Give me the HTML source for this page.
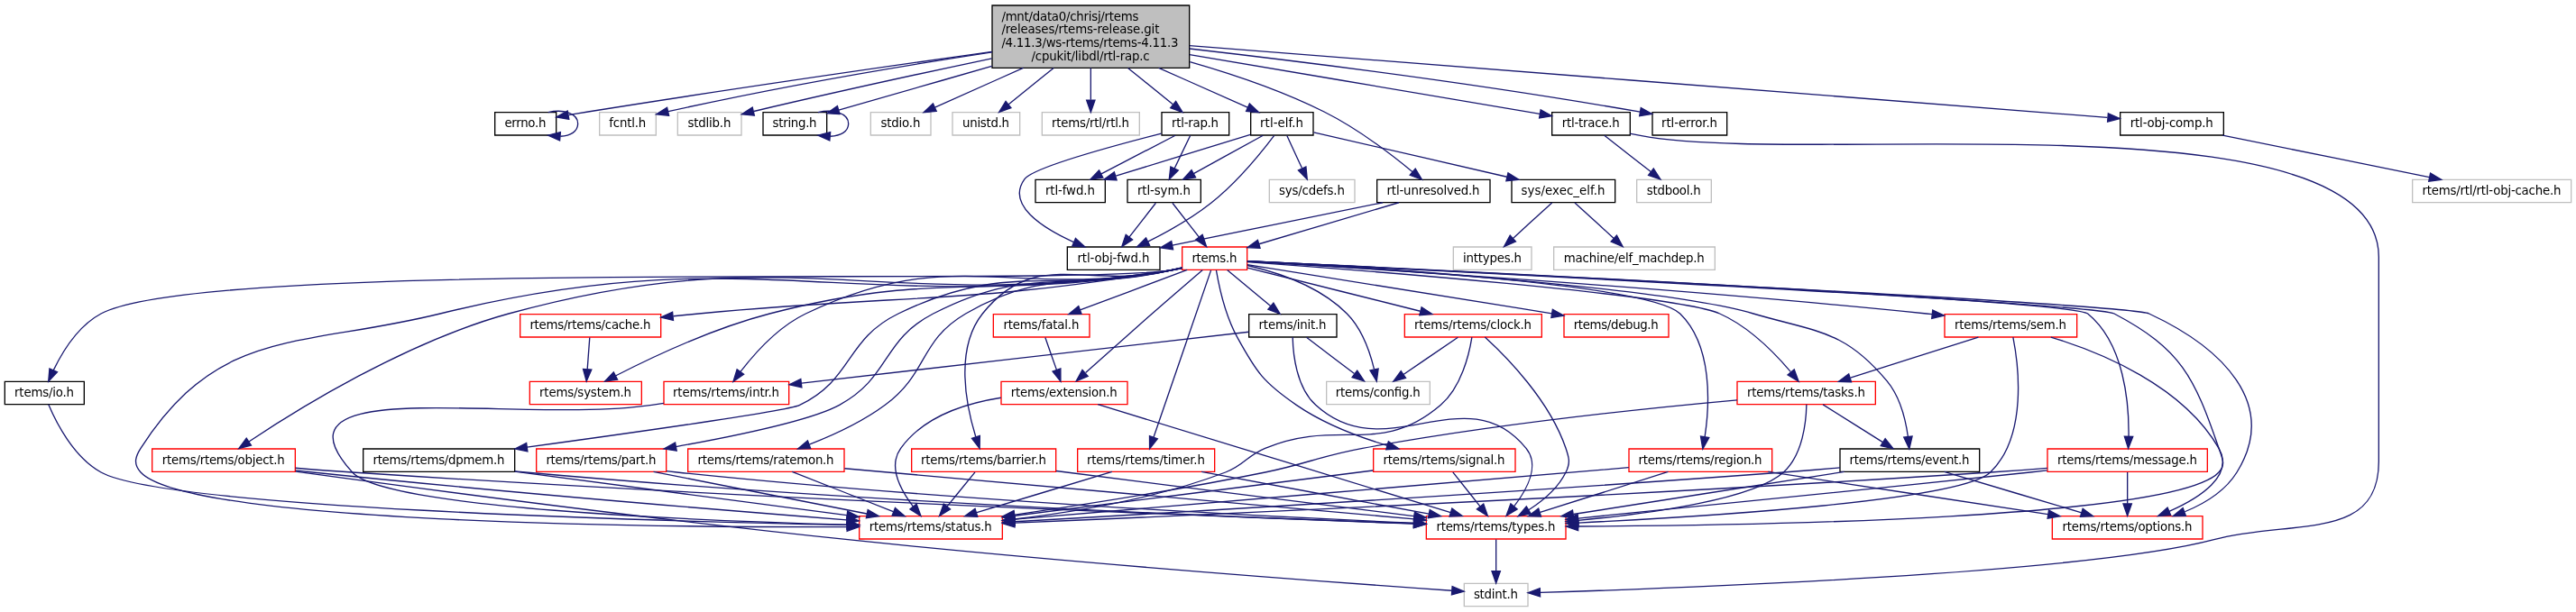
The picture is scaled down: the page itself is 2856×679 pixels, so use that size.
<!DOCTYPE html>
<html lang="en">
<head>
<meta charset="utf-8">
<title>rtl-rap.c include dependency graph</title>
<style>
html,body{margin:0;padding:0;background:#fff;}
body{width:2856px;height:679px;overflow:hidden;}
svg{display:block;will-change:transform;}
svg text{font-family:"DejaVu Sans","Liberation Sans",sans-serif;font-size:10px;fill:#000;}
</style>
</head>
<body>
<svg width="2856" height="679" viewBox="0 0 2142 509.25">
<g class="graph" transform="scale(1 1) rotate(0) translate(4 505)">
<polygon fill="white" stroke="transparent" points="-4,4 -4,-505 2138,-505 2138,4 -4,4"/>
<g class="node">
<polygon fill="#bfbfbf" stroke="black" points="821,-448.5 821,-500.5 985,-500.5 985,-448.5 821,-448.5"/>
<text text-anchor="start" x="828.80" y="-488.05" textLength="114.00">/mnt/data0/chrisj/rtems</text>
<text text-anchor="start" x="828.80" y="-477.05" textLength="131.25">/releases/rtems-release.git</text>
<text text-anchor="start" x="828.80" y="-466.05" textLength="147.00">/4.11.3/ws-rtems/rtems-4.11.3</text>
<text text-anchor="middle" x="902.80" y="-455.05" textLength="98.25">/cpukit/libdl/rtl-rap.c</text>
</g>
<g class="node">
<polygon fill="white" stroke="black" points="407.5,-392.5 407.5,-411.5 458.5,-411.5 458.5,-392.5 407.5,-392.5"/>
<text text-anchor="middle" x="432.80" y="-399.05" textLength="34.50">errno.h</text>
</g>
<g class="edge">
<path fill="none" stroke="midnightblue" d="M820.82,-462.03C736.46,-450.12 601.43,-430.64 485,-412 479.76,-411.16 474.24,-410.24 468.82,-409.32"/>
<polygon fill="midnightblue" stroke="midnightblue" points="469.08,-405.82 458.63,-407.57 467.9,-412.71 469.08,-405.82"/>
</g>
<g class="node">
<polygon fill="white" stroke="#bfbfbf" points="494.5,-392.5 494.5,-411.5 541.5,-411.5 541.5,-392.5 494.5,-392.5"/>
<text text-anchor="middle" x="517.80" y="-399.05" textLength="30.75">fcntl.h</text>
</g>
<g class="edge">
<path fill="none" stroke="midnightblue" d="M820.86,-461.61C751.4,-451 649.12,-434.08 551.71,-412.22"/>
<polygon fill="midnightblue" stroke="midnightblue" points="552.22,-408.75 541.7,-409.95 550.68,-415.58 552.22,-408.75"/>
</g>
<g class="node">
<polygon fill="white" stroke="#bfbfbf" points="559.5,-392.5 559.5,-411.5 612.5,-411.5 612.5,-392.5 559.5,-392.5"/>
<text text-anchor="middle" x="585.80" y="-399.05" textLength="36.00">stdlib.h</text>
</g>
<g class="edge">
<path fill="none" stroke="midnightblue" d="M820.76,-456.4C766.94,-445.02 694.86,-429.4 622.88,-412.39"/>
<polygon fill="midnightblue" stroke="midnightblue" points="623.27,-408.88 612.73,-409.98 621.65,-415.7 623.27,-408.88"/>
</g>
<g class="node">
<polygon fill="white" stroke="black" points="630.5,-392.5 630.5,-411.5 683.5,-411.5 683.5,-392.5 630.5,-392.5"/>
<text text-anchor="middle" x="656.80" y="-399.05" textLength="36.75">string.h</text>
</g>
<g class="edge">
<path fill="none" stroke="midnightblue" d="M820.74,-449.93C777.58,-437.56 726.87,-423.02 693.45,-413.44"/>
<polygon fill="midnightblue" stroke="midnightblue" points="694.23,-410.03 683.66,-410.64 692.3,-416.76 694.23,-410.03"/>
</g>
<g class="node">
<polygon fill="white" stroke="#bfbfbf" points="720,-392.5 720,-411.5 770,-411.5 770,-392.5 720,-392.5"/>
<text text-anchor="middle" x="744.80" y="-399.05" textLength="33.00">stdio.h</text>
</g>
<g class="edge">
<path fill="none" stroke="midnightblue" d="M846.85,-448.45C822,-437.36 793.85,-424.8 773.45,-415.7"/>
<polygon fill="midnightblue" stroke="midnightblue" points="774.67,-412.41 764.11,-411.53 771.82,-418.8 774.67,-412.41"/>
</g>
<g class="node">
<polygon fill="white" stroke="#bfbfbf" points="788,-392.5 788,-411.5 844,-411.5 844,-392.5 788,-392.5"/>
<text text-anchor="middle" x="815.80" y="-399.05" textLength="39.00">unistd.h</text>
</g>
<g class="edge">
<path fill="none" stroke="midnightblue" d="M872.08,-448.45C859.6,-438.33 845.6,-426.98 834.71,-418.16"/>
<polygon fill="midnightblue" stroke="midnightblue" points="836.7,-415.27 826.73,-411.7 832.3,-420.71 836.7,-415.27"/>
</g>
<g class="node">
<polygon fill="white" stroke="#bfbfbf" points="862.5,-392.5 862.5,-411.5 943.5,-411.5 943.5,-392.5 862.5,-392.5"/>
<text text-anchor="middle" x="902.80" y="-399.05" textLength="64.50">rtems/rtl/rtl.h</text>
</g>
<g class="edge">
<path fill="none" stroke="midnightblue" d="M903,-448.45C903,-439.73 903,-430.1 903,-421.96"/>
<polygon fill="midnightblue" stroke="midnightblue" points="906.5,-421.7 903,-411.7 899.5,-421.7 906.5,-421.7"/>
</g>
<g class="node">
<polygon fill="white" stroke="black" points="1036,-392.5 1036,-411.5 1088,-411.5 1088,-392.5 1036,-392.5"/>
<text text-anchor="middle" x="1061.80" y="-399.05" textLength="36.00">rtl-elf.h</text>
</g>
<g class="edge">
<path fill="none" stroke="midnightblue" d="M959.51,-448.45C984.51,-437.36 1012.84,-424.8 1033.37,-415.7"/>
<polygon fill="midnightblue" stroke="midnightblue" points="1035.05,-418.78 1042.77,-411.53 1032.21,-412.38 1035.05,-418.78"/>
</g>
<g class="node">
<polygon fill="white" stroke="black" points="1370,-392.5 1370,-411.5 1432,-411.5 1432,-392.5 1370,-392.5"/>
<text text-anchor="middle" x="1400.80" y="-399.05" textLength="46.49">rtl-error.h</text>
</g>
<g class="edge">
<path fill="none" stroke="midnightblue" d="M985.04,-464.52C1074.6,-454.25 1222.4,-435.94 1359.84,-411.89"/>
<polygon fill="midnightblue" stroke="midnightblue" points="1360.47,-415.33 1369.71,-410.15 1359.26,-408.44 1360.47,-415.33"/>
</g>
<g class="node">
<polygon fill="white" stroke="black" points="1759,-392.5 1759,-411.5 1845,-411.5 1845,-392.5 1759,-392.5"/>
<text text-anchor="middle" x="1801.80" y="-399.05" textLength="69.00">rtl-obj-comp.h</text>
</g>
<g class="edge">
<path fill="none" stroke="midnightblue" d="M985.16,-467.06C1166.55,-452.83 1597.07,-419.07 1748.33,-407.21"/>
<polygon fill="midnightblue" stroke="midnightblue" points="1749.03,-410.66 1758.73,-406.39 1748.49,-403.69 1749.03,-410.66"/>
</g>
<g class="node">
<polygon fill="white" stroke="black" points="962,-392.5 962,-411.5 1018,-411.5 1018,-392.5 962,-392.5"/>
<text text-anchor="middle" x="989.80" y="-399.05" textLength="39.00">rtl-rap.h</text>
</g>
<g class="edge">
<path fill="none" stroke="midnightblue" d="M933.92,-448.45C946.4,-438.33 960.4,-426.98 971.29,-418.16"/>
<polygon fill="midnightblue" stroke="midnightblue" points="973.7,-420.71 979.27,-411.7 969.3,-415.27 973.7,-420.71"/>
</g>
<g class="node">
<polygon fill="white" stroke="black" points="1286.5,-392.5 1286.5,-411.5 1351.5,-411.5 1351.5,-392.5 1286.5,-392.5"/>
<text text-anchor="middle" x="1318.80" y="-399.05" textLength="48.00">rtl-trace.h</text>
</g>
<g class="edge">
<path fill="none" stroke="midnightblue" d="M985.19,-459.57C1072.8,-444.72 1208.12,-421.79 1276.43,-410.21"/>
<polygon fill="midnightblue" stroke="midnightblue" points="1277.13,-413.65 1286.41,-408.52 1275.96,-406.74 1277.13,-413.65"/>
</g>
<g class="node">
<polygon fill="white" stroke="black" points="1141,-336.5 1141,-355.5 1235,-355.5 1235,-336.5 1141,-336.5"/>
<text text-anchor="middle" x="1187.80" y="-343.05" textLength="77.25">rtl-unresolved.h</text>
</g>
<g class="edge">
<path fill="none" stroke="midnightblue" d="M985.45,-453.54C1020.79,-443.43 1061.92,-429.54 1097,-412 1124.61,-398.2 1153.02,-376.47 1170.59,-361.98"/>
<polygon fill="midnightblue" stroke="midnightblue" points="1172.89,-364.63 1178.3,-355.52 1168.39,-359.27 1172.89,-364.63"/>
</g>
<g class="edge">
<path fill="none" stroke="midnightblue" d="M451.78,-411.57C464.31,-414.27 476.5,-411.08 476.5,-402 476.5,-395.48 470.2,-391.99 462.01,-391.55"/>
<polygon fill="midnightblue" stroke="midnightblue" points="461.44,-388.08 451.78,-392.43 462.04,-395.06 461.44,-388.08"/>
</g>
<g class="edge">
<path fill="none" stroke="midnightblue" d="M676.21,-411.57C689.03,-414.27 701.5,-411.08 701.5,-402 701.5,-395.4 694.92,-391.92 686.4,-391.54"/>
<polygon fill="midnightblue" stroke="midnightblue" points="685.87,-388.07 676.21,-392.43 686.48,-395.04 685.87,-388.07"/>
</g>
<g class="node">
<polygon fill="white" stroke="black" points="857,-336.5 857,-355.5 915,-355.5 915,-336.5 857,-336.5"/>
<text text-anchor="middle" x="885.80" y="-343.05" textLength="41.25">rtl-fwd.h</text>
</g>
<g class="edge">
<path fill="none" stroke="midnightblue" d="M1035.65,-392.92C1006.02,-383.82 957.64,-368.98 923.94,-358.64"/>
<polygon fill="midnightblue" stroke="midnightblue" points="924.57,-355.17 913.99,-355.59 922.52,-361.87 924.57,-355.17"/>
</g>
<g class="node">
<polygon fill="white" stroke="#bfbfbf" points="1051.5,-336.5 1051.5,-355.5 1122.5,-355.5 1122.5,-336.5 1051.5,-336.5"/>
<text text-anchor="middle" x="1086.80" y="-343.05" textLength="54.75">sys/cdefs.h</text>
</g>
<g class="edge">
<path fill="none" stroke="midnightblue" d="M1066.13,-392.08C1069.51,-384.77 1074.42,-374.18 1078.62,-365.1"/>
<polygon fill="midnightblue" stroke="midnightblue" points="1081.92,-366.3 1082.95,-355.75 1075.57,-363.36 1081.92,-366.3"/>
</g>
<g class="node">
<polygon fill="white" stroke="black" points="883.5,-280.5 883.5,-299.5 960.5,-299.5 960.5,-280.5 883.5,-280.5"/>
<text text-anchor="middle" x="921.80" y="-287.05" textLength="60.00">rtl-obj-fwd.h</text>
</g>
<g class="edge">
<path fill="none" stroke="midnightblue" d="M1055.51,-392.17C1045.39,-378.82 1024.73,-353.23 1003,-336 986.88,-323.22 966.65,-311.97 950.44,-303.92"/>
<polygon fill="midnightblue" stroke="midnightblue" points="951.95,-300.77 941.42,-299.57 948.9,-307.07 951.95,-300.77"/>
</g>
<g class="node">
<polygon fill="white" stroke="black" points="1253,-336.5 1253,-355.5 1339,-355.5 1339,-336.5 1253,-336.5"/>
<text text-anchor="middle" x="1295.80" y="-343.05" textLength="69.75">sys/exec_elf.h</text>
</g>
<g class="edge">
<path fill="none" stroke="midnightblue" d="M1088.39,-394.91C1127.33,-385.92 1200.79,-368.97 1249.06,-357.83"/>
<polygon fill="midnightblue" stroke="midnightblue" points="1250,-361.21 1258.96,-355.55 1248.42,-354.39 1250,-361.21"/>
</g>
<g class="node">
<polygon fill="white" stroke="black" points="933.5,-336.5 933.5,-355.5 994.5,-355.5 994.5,-336.5 933.5,-336.5"/>
<text text-anchor="middle" x="963.80" y="-343.05" textLength="44.25">rtl-sym.h</text>
</g>
<g class="edge">
<path fill="none" stroke="midnightblue" d="M1046.25,-392.32C1030.68,-383.74 1006.62,-370.49 988.54,-360.52"/>
<polygon fill="midnightblue" stroke="midnightblue" points="990.15,-357.42 979.71,-355.65 986.78,-363.55 990.15,-357.42"/>
</g>
<g class="node">
<polygon fill="white" stroke="#bfbfbf" points="1204.5,-280.5 1204.5,-299.5 1269.5,-299.5 1269.5,-280.5 1204.5,-280.5"/>
<text text-anchor="middle" x="1236.80" y="-287.05" textLength="48.75">inttypes.h</text>
</g>
<g class="edge">
<path fill="none" stroke="midnightblue" d="M1286.52,-336.32C1277.8,-328.34 1264.66,-316.31 1254.1,-306.65"/>
<polygon fill="midnightblue" stroke="midnightblue" points="1256.39,-304 1246.65,-299.83 1251.67,-309.17 1256.39,-304"/>
</g>
<g class="node">
<polygon fill="white" stroke="#bfbfbf" points="1288,-280.5 1288,-299.5 1422,-299.5 1422,-280.5 1288,-280.5"/>
<text text-anchor="middle" x="1354.80" y="-287.05" textLength="117.00">machine/elf_machdep.h</text>
</g>
<g class="edge">
<path fill="none" stroke="midnightblue" d="M1305.48,-336.32C1314.2,-328.34 1327.34,-316.31 1337.9,-306.65"/>
<polygon fill="midnightblue" stroke="midnightblue" points="1340.33,-309.17 1345.35,-299.83 1335.61,-304 1340.33,-309.17"/>
</g>
<g class="edge">
<path fill="none" stroke="midnightblue" d="M957.06,-336.08C951.07,-328.38 942.25,-317.03 934.95,-307.65"/>
<polygon fill="midnightblue" stroke="midnightblue" points="937.71,-305.5 928.81,-299.75 932.18,-309.79 937.71,-305.5"/>
</g>
<g class="node">
<polygon fill="white" stroke="red" points="979,-280.5 979,-299.5 1033,-299.5 1033,-280.5 979,-280.5"/>
<text text-anchor="middle" x="1005.80" y="-287.05" textLength="37.50">rtems.h</text>
</g>
<g class="edge">
<path fill="none" stroke="midnightblue" d="M970.94,-336.08C976.93,-328.38 985.75,-317.03 993.05,-307.65"/>
<polygon fill="midnightblue" stroke="midnightblue" points="995.82,-309.79 999.19,-299.75 990.29,-305.5 995.82,-309.79"/>
</g>
<g class="node">
<polygon fill="white" stroke="red" points="428.5,-224.5 428.5,-243.5 545.5,-243.5 545.5,-224.5 428.5,-224.5"/>
<text text-anchor="middle" x="486.80" y="-231.05" textLength="100.50">rtems/rtems/cache.h</text>
</g>
<g class="edge">
<path fill="none" stroke="midnightblue" d="M978.61,-281.86C975.39,-281.16 972.13,-280.52 969,-280 796.42,-251.25 751.16,-260.7 577,-244 570.17,-243.35 563.06,-242.65 555.95,-241.95"/>
<polygon fill="midnightblue" stroke="midnightblue" points="555.87,-238.43 545.57,-240.93 555.18,-245.39 555.87,-238.43"/>
</g>
<g class="node">
<polygon fill="white" stroke="red" points="436.5,-168.5 436.5,-187.5 529.5,-187.5 529.5,-168.5 436.5,-168.5"/>
<text text-anchor="middle" x="482.80" y="-175.05" textLength="76.50">rtems/system.h</text>
</g>
<g class="edge">
<path fill="none" stroke="midnightblue" d="M978.61,-281.91C975.38,-281.2 972.13,-280.55 969,-280 822.36,-254.35 780.06,-281.51 636,-244 589.08,-231.78 537.85,-207.61 508.17,-192.43"/>
<polygon fill="midnightblue" stroke="midnightblue" points="509.46,-189.15 498.97,-187.66 506.24,-195.37 509.46,-189.15"/>
</g>
<g class="node">
<polygon fill="white" stroke="red" points="710.5,-56.5 710.5,-75.5 829.5,-75.5 829.5,-56.5 710.5,-56.5"/>
<text text-anchor="middle" x="769.80" y="-63.05" textLength="102.00">rtems/rtems/status.h</text>
</g>
<g class="edge">
<path fill="none" stroke="midnightblue" d="M978.63,-281.76C975.4,-281.08 972.14,-280.47 969,-280 701.74,-239.9 624.44,-308.49 362,-244 244.16,-215.04 178.9,-233.9 113,-132 108.17,-124.54 106.93,-118.5 113,-112 152.42,-69.79 538.93,-66.18 700.05,-66.53"/>
<polygon fill="midnightblue" stroke="midnightblue" points="700.32,-70.03 710.33,-66.56 700.34,-63.03 700.32,-70.03"/>
</g>
<g class="node">
<polygon fill="white" stroke="red" points="1138,-112.5 1138,-131.5 1256,-131.5 1256,-112.5 1138,-112.5"/>
<text text-anchor="middle" x="1196.80" y="-119.05" textLength="101.25">rtems/rtems/signal.h</text>
</g>
<g class="edge">
<path fill="none" stroke="midnightblue" d="M1007.34,-280.12C1009.56,-267.15 1014.82,-242.56 1025,-224 1040.9,-195 1046.73,-186.71 1074,-168 1096.74,-152.4 1125.54,-141.48 1149.56,-134.31"/>
<polygon fill="midnightblue" stroke="midnightblue" points="1150.53,-137.67 1159.18,-131.55 1148.61,-130.94 1150.53,-137.67"/>
</g>
<g class="node">
<polygon fill="white" stroke="red" points="1182,-56.5 1182,-75.5 1298,-75.5 1298,-56.5 1182,-56.5"/>
<text text-anchor="middle" x="1239.80" y="-63.05" textLength="99.00">rtems/rtems/types.h</text>
</g>
<g class="edge">
<path fill="none" stroke="midnightblue" d="M1033.3,-287.67C1165.97,-281.14 1737.73,-252.58 1754,-244 1809.76,-214.6 1820.56,-191.63 1841,-132 1843.88,-123.59 1847.05,-118.52 1841,-112 1805.39,-73.62 1458.09,-67.75 1308.25,-67.01"/>
<polygon fill="midnightblue" stroke="midnightblue" points="1308.25,-63.51 1298.24,-66.97 1308.22,-70.51 1308.25,-63.51"/>
</g>
<g class="node">
<polygon fill="white" stroke="red" points="754,-112.5 754,-131.5 874,-131.5 874,-112.5 754,-112.5"/>
<text text-anchor="middle" x="813.80" y="-119.05" textLength="104.24">rtems/rtems/barrier.h</text>
</g>
<g class="edge">
<path fill="none" stroke="midnightblue" d="M978.93,-282.38C975.59,-281.57 972.22,-280.76 969,-280 899.76,-263.59 857.3,-299.68 813,-244 789.66,-214.65 799.35,-167.4 807.36,-141.49"/>
<polygon fill="midnightblue" stroke="midnightblue" points="810.75,-142.39 810.59,-131.8 804.11,-140.18 810.75,-142.39"/>
</g>
<g class="node">
<polygon fill="white" stroke="red" points="548,-168.5 548,-187.5 652,-187.5 652,-168.5 548,-168.5"/>
<text text-anchor="middle" x="599.80" y="-175.05" textLength="88.49">rtems/rtems/intr.h</text>
</g>
<g class="edge">
<path fill="none" stroke="midnightblue" d="M978.6,-281.95C975.38,-281.23 972.12,-280.56 969,-280 835.54,-255.93 788.23,-302.74 666,-244 643.22,-233.05 623.54,-211.05 611.73,-195.69"/>
<polygon fill="midnightblue" stroke="midnightblue" points="614.48,-193.52 605.73,-187.55 608.85,-197.68 614.48,-193.52"/>
</g>
<g class="node">
<polygon fill="white" stroke="red" points="1613,-224.5 1613,-243.5 1723,-243.5 1723,-224.5 1613,-224.5"/>
<text text-anchor="middle" x="1667.80" y="-231.05" textLength="93.00">rtems/rtems/sem.h</text>
</g>
<g class="edge">
<path fill="none" stroke="midnightblue" d="M1033.19,-287.44C1117.29,-282.5 1380.62,-266.22 1598,-244 1599.49,-243.85 1600.99,-243.69 1602.5,-243.53"/>
<polygon fill="midnightblue" stroke="midnightblue" points="1603.08,-246.98 1612.63,-242.39 1602.3,-240.03 1603.08,-246.98"/>
</g>
<g class="node">
<polygon fill="white" stroke="red" points="1702.5,-56.5 1702.5,-75.5 1827.5,-75.5 1827.5,-56.5 1702.5,-56.5"/>
<text text-anchor="middle" x="1764.80" y="-63.05" textLength="108.00">rtems/rtems/options.h</text>
</g>
<g class="edge">
<path fill="none" stroke="midnightblue" d="M1033.43,-287.69C1169.45,-281.15 1765.64,-252.08 1783,-244 1843.79,-215.73 1891.37,-168.95 1856,-112 1846.28,-96.36 1829.34,-85.98 1812.68,-79.19"/>
<polygon fill="midnightblue" stroke="midnightblue" points="1813.56,-75.78 1802.97,-75.59 1811.13,-82.35 1813.56,-75.78"/>
</g>
<g class="node">
<polygon fill="white" stroke="red" points="1440.5,-168.5 1440.5,-187.5 1555.5,-187.5 1555.5,-168.5 1440.5,-168.5"/>
<text text-anchor="middle" x="1497.80" y="-175.05" textLength="98.25">rtems/rtems/tasks.h</text>
</g>
<g class="edge">
<path fill="none" stroke="midnightblue" d="M1033.01,-287.08C1120.13,-280.75 1390.14,-260.04 1426,-244 1450.16,-233.2 1471.79,-211.16 1484.89,-195.76"/>
<polygon fill="midnightblue" stroke="midnightblue" points="1487.95,-197.54 1491.58,-187.59 1482.53,-193.11 1487.95,-197.54"/>
</g>
<g class="node">
<polygon fill="white" stroke="black" points="1526,-112.5 1526,-131.5 1642,-131.5 1642,-112.5 1526,-112.5"/>
<text text-anchor="middle" x="1583.80" y="-119.05" textLength="99.75">rtems/rtems/event.h</text>
</g>
<g class="edge">
<path fill="none" stroke="midnightblue" d="M1033.2,-287.57C1117.61,-282.94 1374.17,-267.27 1454,-244 1507.05,-228.53 1529.66,-230.48 1565,-188 1575.92,-174.88 1580.56,-155.73 1582.54,-141.62"/>
<polygon fill="midnightblue" stroke="midnightblue" points="1586.03,-141.9 1583.62,-131.59 1579.07,-141.15 1586.03,-141.9"/>
</g>
<g class="node">
<polygon fill="white" stroke="red" points="892,-112.5 892,-131.5 1006,-131.5 1006,-112.5 892,-112.5"/>
<text text-anchor="middle" x="948.80" y="-119.05" textLength="98.24">rtems/rtems/timer.h</text>
</g>
<g class="edge">
<path fill="none" stroke="midnightblue" d="M1002.94,-280.08C993.92,-253.83 967.39,-176.55 955.22,-141.12"/>
<polygon fill="midnightblue" stroke="midnightblue" points="958.5,-139.89 951.94,-131.57 951.88,-142.16 958.5,-139.89"/>
</g>
<g class="node">
<polygon fill="white" stroke="red" points="1164,-224.5 1164,-243.5 1278,-243.5 1278,-224.5 1164,-224.5"/>
<text text-anchor="middle" x="1220.80" y="-231.05" textLength="97.50">rtems/rtems/clock.h</text>
</g>
<g class="edge">
<path fill="none" stroke="midnightblue" d="M1033.23,-282.16C1069.42,-273.07 1133.83,-256.9 1176.97,-246.06"/>
<polygon fill="midnightblue" stroke="midnightblue" points="1178.07,-249.39 1186.91,-243.56 1176.36,-242.6 1178.07,-249.39"/>
</g>
<g class="node">
<polygon fill="white" stroke="#bfbfbf" points="1099,-168.5 1099,-187.5 1185,-187.5 1185,-168.5 1099,-168.5"/>
<text text-anchor="middle" x="1141.80" y="-175.05" textLength="70.50">rtems/config.h</text>
</g>
<g class="edge">
<path fill="none" stroke="midnightblue" d="M1033.34,-284.11C1057.9,-278.41 1093.47,-266.7 1116,-244 1128.43,-231.47 1135.12,-212.25 1138.59,-197.95"/>
<polygon fill="midnightblue" stroke="midnightblue" points="1142.1,-198.27 1140.72,-187.77 1135.25,-196.83 1142.1,-198.27"/>
</g>
<g class="node">
<polygon fill="white" stroke="red" points="822,-224.5 822,-243.5 902,-243.5 902,-224.5 822,-224.5"/>
<text text-anchor="middle" x="861.80" y="-231.05" textLength="63.00">rtems/fatal.h</text>
</g>
<g class="edge">
<path fill="none" stroke="midnightblue" d="M983.18,-280.44C959.17,-271.44 921.17,-257.19 894.13,-247.05"/>
<polygon fill="midnightblue" stroke="midnightblue" points="895.3,-243.75 884.71,-243.52 892.84,-250.3 895.3,-243.75"/>
</g>
<g class="node">
<polygon fill="white" stroke="red" points="828.5,-168.5 828.5,-187.5 933.5,-187.5 933.5,-168.5 828.5,-168.5"/>
<text text-anchor="middle" x="880.80" y="-175.05" textLength="88.50">rtems/extension.h</text>
</g>
<g class="edge">
<path fill="none" stroke="midnightblue" d="M995.99,-280.41C985.5,-271.39 968.54,-256.76 954,-244 935.02,-227.34 913.44,-208.09 898.7,-194.89"/>
<polygon fill="midnightblue" stroke="midnightblue" points="900.66,-191.94 890.88,-187.88 895.99,-197.16 900.66,-191.94"/>
</g>
<g class="node">
<polygon fill="white" stroke="red" points="1698.5,-112.5 1698.5,-131.5 1831.5,-131.5 1831.5,-112.5 1698.5,-112.5"/>
<text text-anchor="middle" x="1764.80" y="-119.05" textLength="116.25">rtems/rtems/message.h</text>
</g>
<g class="edge">
<path fill="none" stroke="midnightblue" d="M1033,-287.75C1162.94,-281.71 1718.17,-255.26 1732,-244 1762.44,-219.22 1766.37,-169.35 1766.04,-142"/>
<polygon fill="midnightblue" stroke="midnightblue" points="1769.53,-141.68 1765.7,-131.8 1762.53,-141.92 1769.53,-141.68"/>
</g>
<g class="node">
<polygon fill="white" stroke="red" points="122.5,-112.5 122.5,-131.5 241.5,-131.5 241.5,-112.5 122.5,-112.5"/>
<text text-anchor="middle" x="181.80" y="-119.05" textLength="102.00">rtems/rtems/object.h</text>
</g>
<g class="edge">
<path fill="none" stroke="midnightblue" d="M978.63,-281.78C975.4,-281.1 972.14,-280.48 969,-280 726.86,-242.91 655.18,-309.03 419,-244 333.46,-220.45 242.89,-164.14 202.97,-137.47"/>
<polygon fill="midnightblue" stroke="midnightblue" points="204.84,-134.51 194.59,-131.81 200.92,-140.31 204.84,-134.51"/>
</g>
<g class="node">
<polygon fill="white" stroke="red" points="442,-112.5 442,-131.5 550,-131.5 550,-112.5 442,-112.5"/>
<text text-anchor="middle" x="495.80" y="-119.05" textLength="91.50">rtems/rtems/part.h</text>
</g>
<g class="edge">
<path fill="none" stroke="midnightblue" d="M978.96,-282.23C975.61,-281.45 972.23,-280.69 969,-280 881.94,-261.47 851.09,-284.83 772,-244 728.99,-221.8 736.52,-191.12 694,-168 670.82,-155.4 607.05,-142.15 558.09,-133.32"/>
<polygon fill="midnightblue" stroke="midnightblue" points="558.65,-129.86 548.2,-131.56 557.43,-136.75 558.65,-129.86"/>
</g>
<g class="node">
<polygon fill="white" stroke="black" points="298,-112.5 298,-131.5 424,-131.5 424,-112.5 298,-112.5"/>
<text text-anchor="middle" x="360.80" y="-119.05" textLength="109.50">rtems/rtems/dpmem.h</text>
</g>
<g class="edge">
<path fill="none" stroke="midnightblue" d="M978.98,-282.16C975.63,-281.39 972.24,-280.65 969,-280 869.28,-259.96 834.47,-288.49 743,-244 698.32,-222.27 705.78,-189.53 661,-168 650.83,-163.11 519.7,-144.58 434.21,-132.88"/>
<polygon fill="midnightblue" stroke="midnightblue" points="434.66,-129.41 424.28,-131.52 433.72,-136.35 434.66,-129.41"/>
</g>
<g class="node">
<polygon fill="white" stroke="red" points="1296.5,-224.5 1296.5,-243.5 1383.5,-243.5 1383.5,-224.5 1296.5,-224.5"/>
<text text-anchor="middle" x="1339.80" y="-231.05" textLength="70.50">rtems/debug.h</text>
</g>
<g class="edge">
<path fill="none" stroke="midnightblue" d="M1033.14,-284.74C1081.68,-277.1 1186.83,-260.48 1286.41,-244.09"/>
<polygon fill="midnightblue" stroke="midnightblue" points="1287.04,-247.53 1296.33,-242.45 1285.9,-240.62 1287.04,-247.53"/>
</g>
<g class="node">
<polygon fill="white" stroke="red" points="568,-112.5 568,-131.5 698,-131.5 698,-112.5 568,-112.5"/>
<text text-anchor="middle" x="632.80" y="-119.05" textLength="113.25">rtems/rtems/ratemon.h</text>
</g>
<g class="edge">
<path fill="none" stroke="midnightblue" d="M978.94,-282.32C975.6,-281.52 972.22,-280.73 969,-280 893.69,-262.87 865.7,-282.94 799,-244 760.11,-221.3 768.19,-194.8 732,-168 712.92,-153.87 688.7,-142.76 668.99,-135.12"/>
<polygon fill="midnightblue" stroke="midnightblue" points="670.02,-131.77 659.43,-131.54 667.57,-138.33 670.02,-131.77"/>
</g>
<g class="node">
<polygon fill="white" stroke="black" points="0,-168.5 0,-187.5 66,-187.5 66,-168.5 0,-168.5"/>
<text text-anchor="middle" x="32.80" y="-175.05" textLength="49.50">rtems/io.h</text>
</g>
<g class="edge">
<path fill="none" stroke="midnightblue" d="M978.64,-281.7C975.41,-281.03 972.14,-280.44 969,-280 871.1,-266.25 167.1,-290.75 80,-244 61.08,-233.84 47.9,-212.33 40.41,-196.84"/>
<polygon fill="midnightblue" stroke="midnightblue" points="43.59,-195.39 36.3,-187.7 37.21,-198.26 43.59,-195.39"/>
</g>
<g class="node">
<polygon fill="white" stroke="red" points="1350.5,-112.5 1350.5,-131.5 1469.5,-131.5 1469.5,-112.5 1350.5,-112.5"/>
<text text-anchor="middle" x="1409.80" y="-119.05" textLength="102.75">rtems/rtems/region.h</text>
</g>
<g class="edge">
<path fill="none" stroke="midnightblue" d="M1033.2,-287.73C1117.02,-283.57 1367.26,-269.13 1393,-244 1420.36,-217.29 1417.62,-168.2 1413.6,-141.5"/>
<polygon fill="midnightblue" stroke="midnightblue" points="1417.03,-140.81 1411.89,-131.55 1410.14,-142 1417.03,-140.81"/>
</g>
<g class="node">
<polygon fill="white" stroke="black" points="1034.5,-224.5 1034.5,-243.5 1107.5,-243.5 1107.5,-224.5 1034.5,-224.5"/>
<text text-anchor="middle" x="1070.80" y="-231.05" textLength="56.25">rtems/init.h</text>
</g>
<g class="edge">
<path fill="none" stroke="midnightblue" d="M1016.44,-280.32C1026.15,-272.26 1040.82,-260.08 1052.5,-250.37"/>
<polygon fill="midnightblue" stroke="midnightblue" points="1054.91,-252.92 1060.37,-243.83 1050.44,-247.53 1054.91,-252.92"/>
</g>
<g class="edge">
<path fill="none" stroke="midnightblue" d="M486.34,-224.08C485.82,-217.01 485.06,-206.86 484.41,-197.99"/>
<polygon fill="midnightblue" stroke="midnightblue" points="487.88,-197.47 483.65,-187.75 480.9,-197.98 487.88,-197.47"/>
</g>
<g class="edge">
<path fill="none" stroke="midnightblue" d="M1137.63,-113.49C1059.53,-103.62 922.53,-86.29 839.64,-75.81"/>
<polygon fill="midnightblue" stroke="midnightblue" points="839.92,-72.31 829.56,-74.53 839.04,-79.26 839.92,-72.31"/>
</g>
<g class="edge">
<path fill="none" stroke="midnightblue" d="M1204.1,-112.08C1210.24,-104.38 1219.27,-93.03 1226.74,-83.65"/>
<polygon fill="midnightblue" stroke="midnightblue" points="1229.54,-85.75 1233.03,-75.75 1224.06,-81.39 1229.54,-85.75"/>
</g>
<g class="node">
<polygon fill="white" stroke="#bfbfbf" points="1213.5,-0.5 1213.5,-19.5 1266.5,-19.5 1266.5,-0.5 1213.5,-0.5"/>
<text text-anchor="middle" x="1239.80" y="-7.05" textLength="36.75">stdint.h</text>
</g>
<g class="edge">
<path fill="none" stroke="midnightblue" d="M1240,-56.08C1240,-49.01 1240,-38.86 1240,-29.99"/>
<polygon fill="midnightblue" stroke="midnightblue" points="1243.5,-29.75 1240,-19.75 1236.5,-29.75 1243.5,-29.75"/>
</g>
<g class="edge">
<path fill="none" stroke="midnightblue" d="M806.73,-112.08C800.46,-104.38 791.21,-93.03 783.57,-83.65"/>
<polygon fill="midnightblue" stroke="midnightblue" points="786.16,-81.29 777.13,-75.75 780.73,-85.71 786.16,-81.29"/>
</g>
<g class="edge">
<path fill="none" stroke="midnightblue" d="M874.21,-113.13C877.18,-112.75 880.12,-112.37 883,-112 983.4,-99.12 1099.72,-84.52 1171.59,-75.53"/>
<polygon fill="midnightblue" stroke="midnightblue" points="1172.38,-78.96 1181.87,-74.25 1171.51,-72.02 1172.38,-78.96"/>
</g>
<g class="edge">
<path fill="none" stroke="midnightblue" d="M547.91,-169.44C544.55,-168.95 541.23,-168.47 538,-168 425.74,-151.74 212.62,-195.86 289,-112 316.12,-82.22 573.38,-71.8 700.12,-68.45"/>
<polygon fill="midnightblue" stroke="midnightblue" points="700.59,-71.93 710.5,-68.18 700.41,-64.94 700.59,-71.93"/>
</g>
<g class="edge">
<path fill="none" stroke="midnightblue" d="M1669.9,-224.44C1674.26,-202.23 1682.37,-142.42 1651,-112 1626.92,-88.65 1418.9,-75.41 1308.38,-69.96"/>
<polygon fill="midnightblue" stroke="midnightblue" points="1308.48,-66.46 1298.32,-69.47 1308.14,-73.45 1308.48,-66.46"/>
</g>
<g class="edge">
<path fill="none" stroke="midnightblue" d="M1701.32,-224.49C1742.57,-211.96 1811.04,-184.18 1841,-132 1854.01,-109.34 1825.45,-90.85 1799.7,-79.47"/>
<polygon fill="midnightblue" stroke="midnightblue" points="1801.01,-76.22 1790.43,-75.6 1798.31,-82.68 1801.01,-76.22"/>
</g>
<g class="edge">
<path fill="none" stroke="midnightblue" d="M1641.06,-224.44C1612.34,-215.32 1566.67,-200.81 1534.68,-190.65"/>
<polygon fill="midnightblue" stroke="midnightblue" points="1535.4,-187.21 1524.81,-187.52 1533.28,-193.88 1535.4,-187.21"/>
</g>
<g class="edge">
<path fill="none" stroke="midnightblue" d="M1440.47,-172.15C1367.59,-165.52 1238.33,-152.09 1129,-132 1092.53,-125.3 1084.33,-119.41 1048,-112 977.53,-97.62 896.26,-84.91 839.87,-76.7"/>
<polygon fill="midnightblue" stroke="midnightblue" points="840.04,-73.18 829.64,-75.22 839.03,-80.11 840.04,-73.18"/>
</g>
<g class="edge">
<path fill="none" stroke="midnightblue" d="M1498.15,-168.37C1497.89,-154.34 1495.2,-126.68 1479,-112 1454.4,-89.71 1369.85,-77.82 1308.28,-71.97"/>
<polygon fill="midnightblue" stroke="midnightblue" points="1308.5,-68.48 1298.22,-71.05 1307.86,-75.45 1308.5,-68.48"/>
</g>
<g class="edge">
<path fill="none" stroke="midnightblue" d="M1511.82,-168.32C1525.23,-159.9 1545.82,-146.97 1561.59,-137.07"/>
<polygon fill="midnightblue" stroke="midnightblue" points="1563.61,-139.94 1570.22,-131.65 1559.89,-134.01 1563.61,-139.94"/>
</g>
<g class="edge">
<path fill="none" stroke="midnightblue" d="M1525.98,-115.8C1510.7,-114.49 1494.23,-113.14 1479,-112 1244.88,-94.54 966.95,-78.17 839.78,-70.92"/>
<polygon fill="midnightblue" stroke="midnightblue" points="839.97,-67.42 829.79,-70.35 839.57,-74.41 839.97,-67.42"/>
</g>
<g class="edge">
<path fill="none" stroke="midnightblue" d="M1529.49,-112.44C1468.35,-102.85 1369.26,-87.29 1304.36,-77.1"/>
<polygon fill="midnightblue" stroke="midnightblue" points="1304.67,-73.61 1294.25,-75.52 1303.59,-80.52 1304.67,-73.61"/>
</g>
<g class="edge">
<path fill="none" stroke="midnightblue" d="M1612.68,-112.44C1643.53,-103.24 1692.73,-88.56 1726.83,-78.39"/>
<polygon fill="midnightblue" stroke="midnightblue" points="1727.87,-81.73 1736.45,-75.52 1725.87,-75.02 1727.87,-81.73"/>
</g>
<g class="edge">
<path fill="none" stroke="midnightblue" d="M920.64,-112.44C890.26,-103.28 841.89,-88.69 808.18,-78.52"/>
<polygon fill="midnightblue" stroke="midnightblue" points="808.82,-75.05 798.23,-75.52 806.79,-81.76 808.82,-75.05"/>
</g>
<g class="edge">
<path fill="none" stroke="midnightblue" d="M995.11,-112.44C1046.41,-102.92 1129.27,-87.55 1184.19,-77.36"/>
<polygon fill="midnightblue" stroke="midnightblue" points="1184.91,-80.78 1194.11,-75.52 1183.64,-73.9 1184.91,-80.78"/>
</g>
<g class="edge">
<path fill="none" stroke="midnightblue" d="M1219.92,-224.4C1217.68,-210.41 1211.24,-182.81 1194,-168 1143.29,-124.47 1109.73,-157.61 1048,-132 1032.16,-125.43 1031.03,-118.09 1015,-112 958.08,-90.36 889.66,-78.92 839.61,-72.99"/>
<polygon fill="midnightblue" stroke="midnightblue" points="839.87,-69.5 829.54,-71.85 839.08,-76.45 839.87,-69.5"/>
</g>
<g class="edge">
<path fill="none" stroke="midnightblue" d="M1230.77,-224.49C1248.29,-208.48 1284.53,-171.9 1298,-132 1300.84,-123.58 1301.91,-119.98 1298,-112 1291.48,-98.68 1278.9,-88.18 1267.13,-80.68"/>
<polygon fill="midnightblue" stroke="midnightblue" points="1268.78,-77.59 1258.39,-75.53 1265.23,-83.62 1268.78,-77.59"/>
</g>
<g class="edge">
<path fill="none" stroke="midnightblue" d="M1208.31,-224.32C1196.1,-215.98 1177.42,-203.21 1163,-193.35"/>
<polygon fill="midnightblue" stroke="midnightblue" points="1164.89,-190.41 1154.66,-187.65 1160.94,-196.19 1164.89,-190.41"/>
</g>
<g class="edge">
<path fill="none" stroke="midnightblue" d="M865.14,-224.08C867.68,-216.85 871.36,-206.41 874.53,-197.4"/>
<polygon fill="midnightblue" stroke="midnightblue" points="877.9,-198.35 877.92,-187.75 871.3,-196.02 877.9,-198.35"/>
</g>
<g class="edge">
<path fill="none" stroke="midnightblue" d="M828.35,-174.07C798.71,-169.4 763.93,-158.21 745,-132 734.33,-117.23 744.89,-97.32 755.38,-83.44"/>
<polygon fill="midnightblue" stroke="midnightblue" points="758.1,-85.64 761.71,-75.68 752.68,-81.22 758.1,-85.64"/>
</g>
<g class="edge">
<path fill="none" stroke="midnightblue" d="M908.87,-168.46C972.75,-148.89 1129.8,-100.77 1202.26,-78.57"/>
<polygon fill="midnightblue" stroke="midnightblue" points="1203.36,-81.89 1211.9,-75.61 1201.31,-75.19 1203.36,-81.89"/>
</g>
<g class="edge">
<path fill="none" stroke="midnightblue" d="M1698.41,-115.43C1682.86,-114.22 1666.35,-113 1651,-112 1349.34,-92.39 989.1,-76.27 839.96,-69.91"/>
<polygon fill="midnightblue" stroke="midnightblue" points="839.73,-66.4 829.59,-69.47 839.43,-73.39 839.73,-66.4"/>
</g>
<g class="edge">
<path fill="none" stroke="midnightblue" d="M1698.26,-113.53C1693.44,-113.01 1688.64,-112.49 1684,-112 1550.97,-97.87 1395.41,-82.33 1308.23,-73.71"/>
<polygon fill="midnightblue" stroke="midnightblue" points="1308.5,-70.22 1298.2,-72.72 1307.81,-77.18 1308.5,-70.22"/>
</g>
<g class="edge">
<path fill="none" stroke="midnightblue" d="M1765,-112.08C1765,-105.01 1765,-94.86 1765,-85.99"/>
<polygon fill="midnightblue" stroke="midnightblue" points="1768.5,-85.75 1765,-75.75 1761.5,-85.75 1768.5,-85.75"/>
</g>
<g class="edge">
<path fill="none" stroke="midnightblue" d="M241.75,-113.56C246.57,-113.01 251.37,-112.48 256,-112 414.54,-95.42 601.04,-80.15 700.01,-72.38"/>
<polygon fill="midnightblue" stroke="midnightblue" points="700.49,-75.85 710.19,-71.58 699.94,-68.87 700.49,-75.85"/>
</g>
<g class="edge">
<path fill="none" stroke="midnightblue" d="M241.68,-115.59C257.09,-114.3 273.65,-113.01 289,-112 619.32,-90.3 1014.84,-75.01 1171.38,-69.38"/>
<polygon fill="midnightblue" stroke="midnightblue" points="1171.93,-72.87 1181.79,-69.01 1171.67,-65.87 1171.93,-72.87"/>
</g>
<g class="edge">
<path fill="none" stroke="midnightblue" d="M241.85,-112.69C338.34,-99.47 534.36,-73.38 701,-56 889.5,-36.34 1115.8,-19.71 1203.13,-13.55"/>
<polygon fill="midnightblue" stroke="midnightblue" points="1203.59,-17.03 1213.32,-12.84 1203.1,-10.04 1203.59,-17.03"/>
</g>
<g class="edge">
<path fill="none" stroke="midnightblue" d="M539.42,-112.44C587.52,-102.96 665.09,-87.67 716.81,-77.48"/>
<polygon fill="midnightblue" stroke="midnightblue" points="717.65,-80.88 726.79,-75.52 716.3,-74.02 717.65,-80.88"/>
</g>
<g class="edge">
<path fill="none" stroke="midnightblue" d="M550.26,-112.98C553.22,-112.63 556.14,-112.3 559,-112 782.52,-88.68 1048.65,-75.22 1171.55,-69.8"/>
<polygon fill="midnightblue" stroke="midnightblue" points="1171.73,-73.3 1181.57,-69.36 1171.43,-66.3 1171.73,-73.3"/>
</g>
<g class="edge">
<path fill="none" stroke="midnightblue" d="M424.01,-112.68C498.64,-102.83 622.58,-86.46 700.1,-76.23"/>
<polygon fill="midnightblue" stroke="midnightblue" points="700.79,-79.67 710.25,-74.89 699.88,-72.73 700.79,-79.67"/>
</g>
<g class="edge">
<path fill="none" stroke="midnightblue" d="M424.19,-112.85C427.17,-112.55 430.11,-112.26 433,-112 706.02,-87.35 1032.31,-74.12 1171.57,-69.23"/>
<polygon fill="midnightblue" stroke="midnightblue" points="1171.8,-72.72 1181.67,-68.88 1171.55,-65.73 1171.8,-72.72"/>
</g>
<g class="edge">
<path fill="none" stroke="midnightblue" d="M654.71,-112.44C677.35,-103.52 713.07,-89.44 738.75,-79.32"/>
<polygon fill="midnightblue" stroke="midnightblue" points="740.37,-82.44 748.39,-75.52 737.81,-75.93 740.37,-82.44"/>
</g>
<g class="edge">
<path fill="none" stroke="midnightblue" d="M698.25,-115.2C813.99,-104.9 1054.1,-83.54 1171.87,-73.06"/>
<polygon fill="midnightblue" stroke="midnightblue" points="1172.2,-76.55 1181.85,-72.17 1171.58,-69.57 1172.2,-76.55"/>
</g>
<g class="edge">
<path fill="none" stroke="midnightblue" d="M36.34,-168.36C42.48,-153.78 57.09,-124.66 80,-112 133.32,-82.53 535.95,-71.5 700.38,-68.2"/>
<polygon fill="midnightblue" stroke="midnightblue" points="700.46,-71.7 710.39,-68 700.32,-64.7 700.46,-71.7"/>
</g>
<g class="edge">
<path fill="none" stroke="midnightblue" d="M1350.37,-115.97C1231.63,-105.95 966.22,-83.56 839.69,-72.88"/>
<polygon fill="midnightblue" stroke="midnightblue" points="839.98,-69.39 829.72,-72.04 839.39,-76.37 839.98,-69.39"/>
</g>
<g class="edge">
<path fill="none" stroke="midnightblue" d="M1383.06,-112.44C1354.34,-103.32 1308.67,-88.81 1276.68,-78.65"/>
<polygon fill="midnightblue" stroke="midnightblue" points="1277.4,-75.21 1266.81,-75.52 1275.28,-81.88 1277.4,-75.21"/>
</g>
<g class="edge">
<path fill="none" stroke="midnightblue" d="M1466.25,-112.44C1529.48,-102.83 1632.02,-87.23 1698.99,-77.04"/>
<polygon fill="midnightblue" stroke="midnightblue" points="1699.65,-80.48 1709.01,-75.52 1698.6,-73.56 1699.65,-80.48"/>
</g>
<g class="edge">
<path fill="none" stroke="midnightblue" d="M1070.88,-224.4C1071.18,-210.42 1073.92,-182.82 1090,-168 1148.39,-114.19 1214.83,-193.55 1265,-132 1276.51,-117.88 1265.81,-97.85 1255.05,-83.77"/>
<polygon fill="midnightblue" stroke="midnightblue" points="1257.61,-81.37 1248.54,-75.88 1252.2,-85.82 1257.61,-81.37"/>
</g>
<g class="edge">
<path fill="none" stroke="midnightblue" d="M1034.43,-228.81C954.27,-219.62 762.29,-197.61 662.55,-186.17"/>
<polygon fill="midnightblue" stroke="midnightblue" points="662.65,-182.66 652.32,-185 661.85,-189.61 662.65,-182.66"/>
</g>
<g class="edge">
<path fill="none" stroke="midnightblue" d="M1082.41,-224.32C1093.11,-216.18 1109.34,-203.84 1122.16,-194.09"/>
<polygon fill="midnightblue" stroke="midnightblue" points="1124.54,-196.67 1130.39,-187.83 1120.31,-191.1 1124.54,-196.67"/>
</g>
<g class="node">
<polygon fill="white" stroke="#bfbfbf" points="2002,-336.5 2002,-355.5 2134,-355.5 2134,-336.5 2002,-336.5"/>
<text text-anchor="middle" x="2067.80" y="-343.05" textLength="115.50">rtems/rtl/rtl-obj-cache.h</text>
</g>
<g class="edge">
<path fill="none" stroke="midnightblue" d="M1844.15,-392.44C1890.75,-382.98 1965.84,-367.74 2016.05,-357.55"/>
<polygon fill="midnightblue" stroke="midnightblue" points="2016.94,-360.94 2026.05,-355.52 2015.55,-354.08 2016.94,-360.94"/>
</g>
<g class="edge">
<path fill="none" stroke="midnightblue" d="M973.29,-392.32C956.69,-383.7 931,-370.36 911.78,-360.39"/>
<polygon fill="midnightblue" stroke="midnightblue" points="913.16,-357.16 902.67,-355.65 909.93,-363.37 913.16,-357.16"/>
</g>
<g class="edge">
<path fill="none" stroke="midnightblue" d="M961.7,-393.94C922.28,-383.82 854.87,-365.39 848,-356 832.44,-334.74 862.41,-315.53 888.75,-303.6"/>
<polygon fill="midnightblue" stroke="midnightblue" points="890.39,-306.7 898.2,-299.54 887.63,-300.27 890.39,-306.7"/>
</g>
<g class="edge">
<path fill="none" stroke="midnightblue" d="M985.71,-392.08C982.15,-384.69 976.98,-373.95 972.58,-364.81"/>
<polygon fill="midnightblue" stroke="midnightblue" points="975.71,-363.24 968.21,-355.75 969.4,-366.28 975.71,-363.24"/>
</g>
<g class="edge">
<path fill="none" stroke="midnightblue" d="M1351.53,-393.87C1354.72,-393.22 1357.92,-392.58 1361,-392 1496.65,-366.31 1974,-429.06 1974,-291 1974,-291 1974,-291 1974,-121 1974,-53.61 1902.14,-73.27 1837,-56 1730.3,-27.72 1389.7,-15.39 1276.77,-12.01"/>
<polygon fill="midnightblue" stroke="midnightblue" points="1276.67,-8.51 1266.57,-11.71 1276.46,-15.5 1276.67,-8.51"/>
</g>
<g class="node">
<polygon fill="white" stroke="#bfbfbf" points="1357,-336.5 1357,-355.5 1419,-355.5 1419,-336.5 1357,-336.5"/>
<text text-anchor="middle" x="1387.80" y="-343.05" textLength="45.00">stdbool.h</text>
</g>
<g class="edge">
<path fill="none" stroke="midnightblue" d="M1330.09,-392.32C1340.49,-384.18 1356.26,-371.84 1368.72,-362.09"/>
<polygon fill="midnightblue" stroke="midnightblue" points="1370.99,-364.75 1376.71,-355.83 1366.68,-359.24 1370.99,-364.75"/>
</g>
<g class="edge">
<path fill="none" stroke="midnightblue" d="M1145.85,-336.44C1098.29,-326.79 1021.05,-311.11 970.89,-300.92"/>
<polygon fill="midnightblue" stroke="midnightblue" points="971.42,-297.46 960.92,-298.9 970.03,-304.32 971.42,-297.46"/>
</g>
<g class="edge">
<path fill="none" stroke="midnightblue" d="M1159.16,-336.44C1127.69,-327.11 1077.21,-312.13 1042.88,-301.94"/>
<polygon fill="midnightblue" stroke="midnightblue" points="1043.8,-298.56 1033.22,-299.08 1041.81,-305.28 1043.8,-298.56"/>
</g>
</g>
</svg>
</body>
</html>
